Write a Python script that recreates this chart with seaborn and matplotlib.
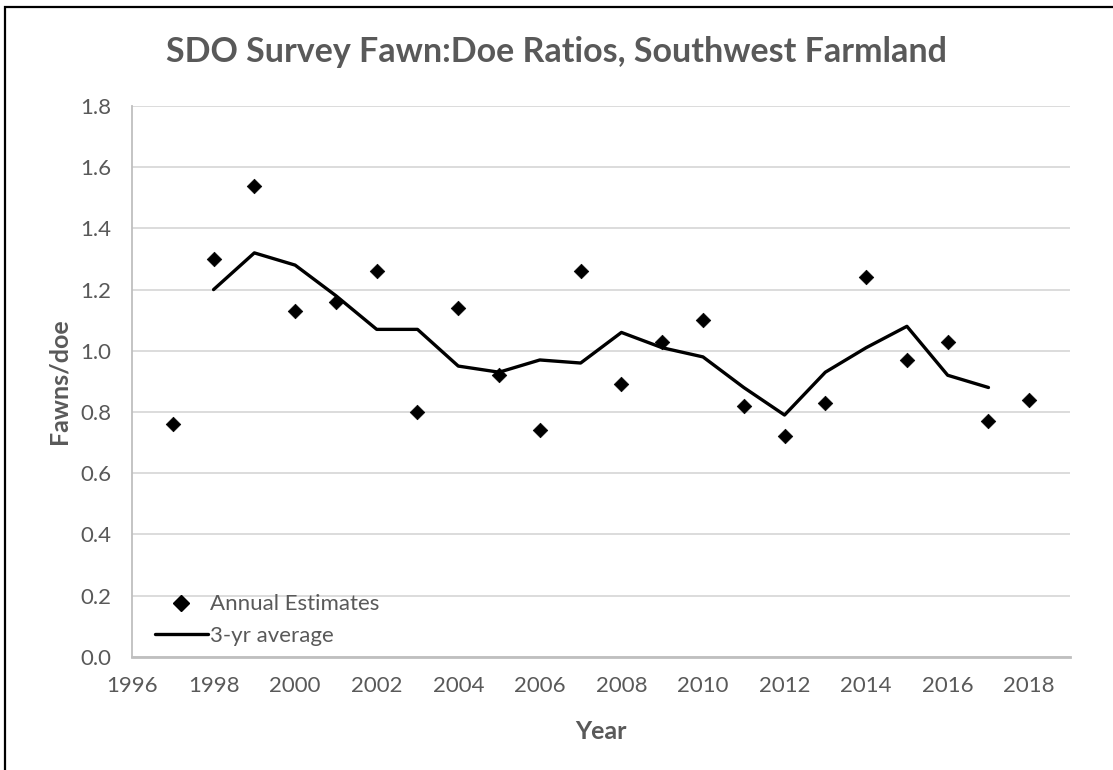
import matplotlib
matplotlib.use("Agg")
import matplotlib.pyplot as plt
import seaborn as sns
import pandas as pd
from matplotlib.patches import Rectangle
from matplotlib.lines import Line2D

years = [1997, 1998, 1999, 2000, 2001, 2002, 2003, 2004, 2005, 2006, 2007,
         2008, 2009, 2010, 2011, 2012, 2013, 2014, 2015, 2016, 2017, 2018]
annual = [0.76, 1.30, 1.54, 1.13, 1.16, 1.26, 0.80, 1.14, 0.92, 0.74, 1.26,
          0.89, 1.03, 1.10, 0.82, 0.72, 0.83, 1.24, 0.97, 1.03, 0.77, 0.84]

avg_years = [1998, 1999, 2000, 2001, 2002, 2003, 2004, 2005, 2006, 2007,
             2008, 2009, 2010, 2011, 2012, 2013, 2014, 2015, 2016, 2017]
avg3 = [1.20, 1.32, 1.28, 1.18, 1.07, 1.07, 0.95, 0.93, 0.97, 0.96,
        1.06, 1.01, 0.98, 0.88, 0.79, 0.93, 1.01, 1.08, 0.92, 0.88]

x_ticks = [1996, 1998, 2000, 2002, 2004, 2006, 2008, 2010, 2012, 2014, 2016, 2018]
y_ticks = [0.0, 0.2, 0.4, 0.6, 0.8, 1.0, 1.2, 1.4, 1.6, 1.8]

sns.set_theme(style="white")
plt.rcParams["font.family"] = ["Lato", "DejaVu Sans"]

TXT = "#595959"
GRID = "#d9d9d9"
AXIS = "#bfbfbf"

fig = plt.figure(figsize=(11.13, 7.7), dpi=100)
ax = fig.add_axes([0.1186, 0.1471, 0.9614 - 0.1186, 0.8623 - 0.1471])

df_a = pd.DataFrame({"Year": years, "Fawns/doe": annual})
df_m = pd.DataFrame({"Year": avg_years, "Fawns/doe": avg3})

sns.lineplot(data=df_m, x="Year", y="Fawns/doe", ax=ax, color="black",
             linewidth=2.4, zorder=3)
sns.scatterplot(data=df_a, x="Year", y="Fawns/doe", ax=ax, marker="D",
                color="black", s=55, edgecolor="black", linewidth=0.5, zorder=4)

ax.set_xlim(1996, 2019)
ax.set_ylim(0, 1.8)
ax.set_xticks(x_ticks)
ax.set_yticks(y_ticks)
ax.set_xticklabels([str(t) for t in x_ticks])
ax.set_yticklabels([f"{t:.1f}" for t in y_ticks])
ax.tick_params(axis="both", length=0, labelsize=16, labelcolor=TXT)
ax.tick_params(axis="x", pad=14)
ax.tick_params(axis="y", pad=15)

ax.yaxis.grid(True, color=GRID, linewidth=1.3)
ax.xaxis.grid(False)
ax.set_axisbelow(True)
for side in ["top", "right"]:
    ax.spines[side].set_visible(False)
ax.spines["left"].set_color(AXIS)
ax.spines["left"].set_linewidth(1.3)
ax.spines["bottom"].set_color(AXIS)
ax.spines["bottom"].set_linewidth(2.0)

ax.set_xlabel("Year", fontsize=18, fontweight="bold", color=TXT, labelpad=17)
ax.set_ylabel("Fawns/doe", fontsize=18, fontweight="bold", color=TXT, labelpad=7)

fig.text(0.5, 0.932, "SDO Survey Fawn:Doe Ratios, Southwest Farmland",
         ha="center", va="center", fontsize=24.5, fontweight="bold", color=TXT)

handles = [
    Line2D([], [], linestyle="none", marker="D", color="black", markersize=8),
    Line2D([], [], color="black", linewidth=2.4),
]
ax.legend(handles, ["Annual Estimates", "3-yr average"], loc="lower left",
          bbox_to_anchor=(0.003, -0.016), frameon=False, fontsize=16,
          labelcolor=TXT, handlelength=2.4, handletextpad=0.1,
          labelspacing=0.5)

fig.add_artist(Rectangle((5 / 1113, -0.05), 1.2, 1 - 7 / 770 + 0.05,
                         transform=fig.transFigure, fill=False,
                         edgecolor="black", linewidth=1.6))

fig.savefig("out.png", dpi=100)
